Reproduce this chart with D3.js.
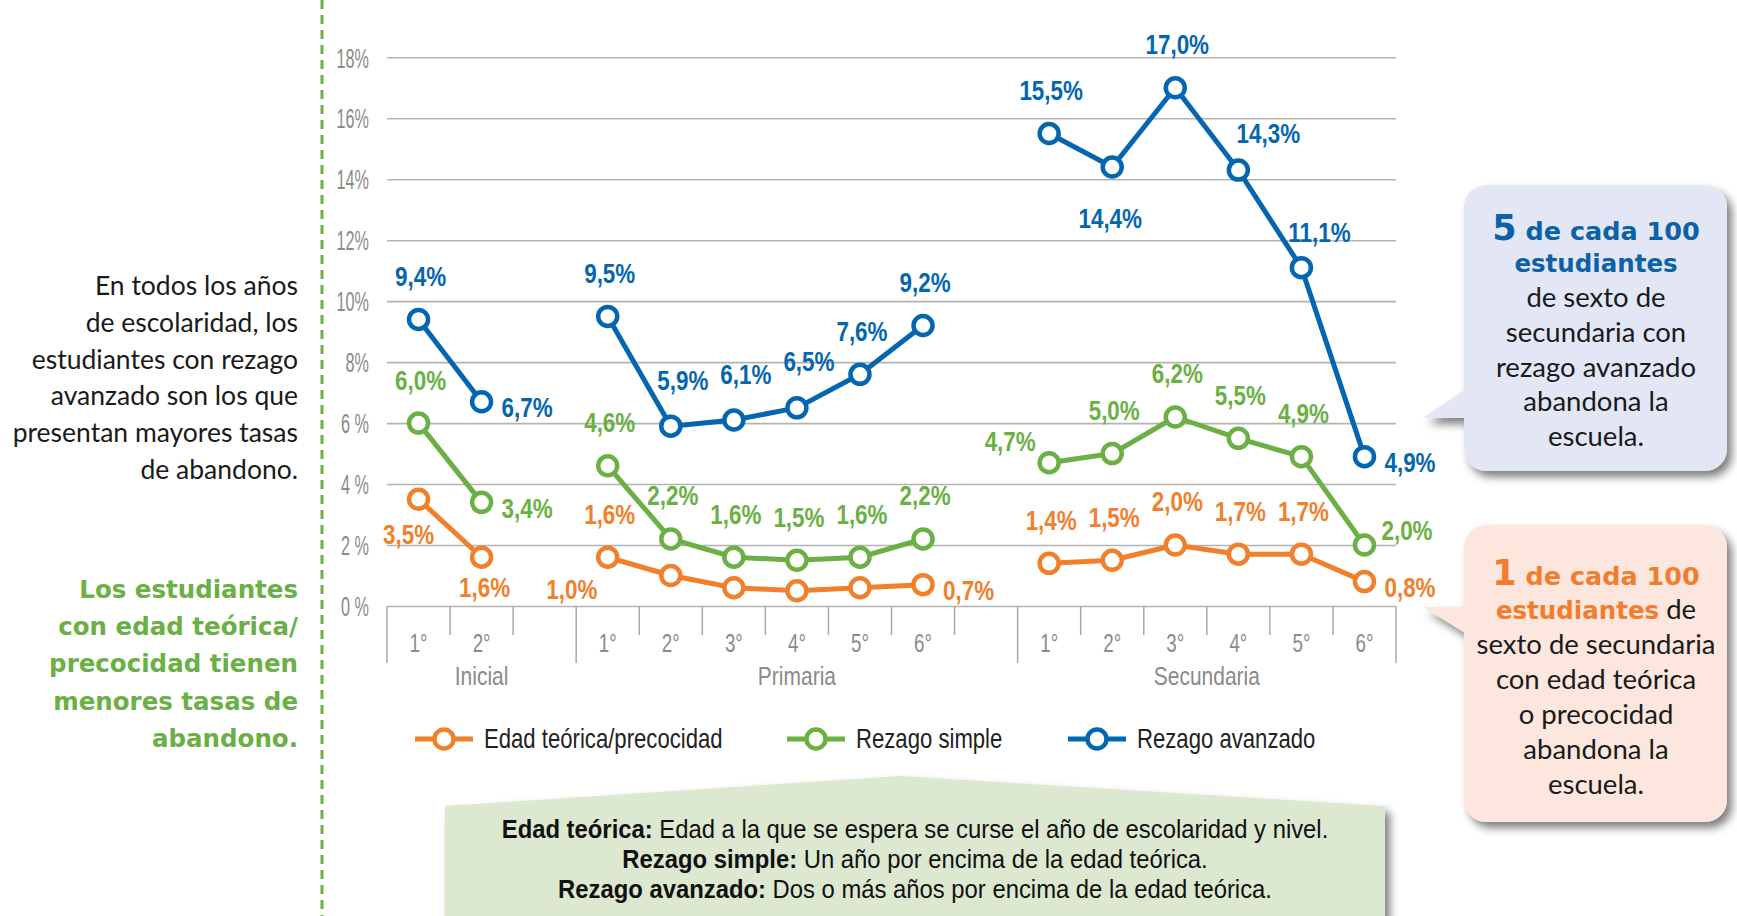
<!DOCTYPE html>
<html><head><meta charset="utf-8">
<script src="https://cdn.jsdelivr.net/npm/d3@7"></script>
<style>
html,body{margin:0;padding:0;background:#fff;}
svg{display:block}
</style></head><body>
<svg id="chart" width="1737" height="916"></svg>
<script>
// ---------- data ----------
const levels = ["Inicial", "Primaria", "Secundaria"];
const inicialGrades = ["1°", "2°"];
const primariaGrades = ["1°", "2°", "3°", "4°", "5°", "6°"];
const secundariaGrades = ["1°", "2°", "3°", "4°", "5°", "6°"];
const yTicks = [0, 2, 4, 6, 8, 10, 12, 14, 16, 18];
const yTickLabels = ["0 %", "2 %", "4 %", "6 %", "8%", "10%", "12%", "14%", "16%", "18%"];
const seriesNames = ["Edad teórica/precocidad", "Rezago simple", "Rezago avanzado"];

const edadInicial = [3.5, 1.6];
const edadPrimaria = [1.6, 1.0, 0.6, 0.5, 0.6, 0.7];
const edadSecundaria = [1.4, 1.5, 2.0, 1.7, 1.7, 0.8];
const simpleInicial = [6.0, 3.4];
const simplePrimaria = [4.6, 2.2, 1.6, 1.5, 1.6, 2.2];
const simpleSecundaria = [4.7, 5.0, 6.2, 5.5, 4.9, 2.0];
const avanzadoInicial = [9.4, 6.7];
const avanzadoPrimaria = [9.5, 5.9, 6.1, 6.5, 7.6, 9.2];
const avanzadoSecundaria = [15.5, 14.4, 17.0, 14.3, 11.1, 4.9];

// which points carry a value label, and on which side
const edadLabelSide = ["sw", "s", "n", "w", null, null, null, "e", "n", "n", "n", "n", "n", "e"];
const simpleLabelSide = ["n", "e", "n", "n", "n", "n", "n", "n", "nw", "n", "n", "n", "n", "en"];
const avanzadoLabelSide = ["n", "e", "n", "nr", "nr", "nr", "n", "n", "n", "ss", "n", "ne", "ne2", "e"];

// ---------- styles ----------
const COLORS = ["#f1802c", "#6ab045", "#0566b0"];
const COND = '"Liberation Sans",Arimo,Arial,sans-serif';
const HEAVY = '"DejaVu Sans",sans-serif';
const BOOK = 'Lato,"Open Sans",sans-serif';

const svg = d3.select("#chart");
const defs = svg.append("defs");
const f = defs.append("filter").attr("id", "shadow").attr("x", "-20%").attr("y", "-20%").attr("width", "150%").attr("height", "150%");
f.append("feDropShadow").attr("dx", 5).attr("dy", 6).attr("stdDeviation", 4).attr("flood-color", "#000").attr("flood-opacity", 0.5);

// ---------- categories ----------
const gradesByLevel = {Inicial: inicialGrades, Primaria: primariaGrades, Secundaria: secundariaGrades};
const cats = [];
levels.forEach((lv, li) => {
  gradesByLevel[lv].forEach(g => cats.push({key: lv + "|" + g, level: lv, grade: g}));
  if (li < levels.length - 1) cats.push({key: lv + "|gap", level: lv, grade: ""});
});

const pLeft = 387, pRight = 1396, pTop = 57.3, pBottom = 606;
const x = d3.scaleBand().domain(cats.map(c => c.key)).range([pLeft, pRight]).padding(0);
const y = d3.scaleLinear().domain([0, 18]).range([pBottom, pTop]);

// ---------- left dashed divider ----------
svg.append("line").attr("x1", 322).attr("x2", 322).attr("y1", 0).attr("y2", 916)
  .attr("stroke", "#6ab045").attr("stroke-width", 3).attr("stroke-dasharray", "9 6");

// ---------- y grid / axis ----------
const yAxis = svg.append("g").attr("transform", `translate(${pLeft},0)`)
  .call(d3.axisLeft(y).tickValues(yTicks).tickSize(-(pRight - pLeft)).tickPadding(0)
    .tickFormat((d, i) => yTickLabels[i]));
yAxis.select(".domain").remove();
yAxis.selectAll(".tick line").attr("stroke", "#b3b3b3").attr("stroke-width", 1.6);
yAxis.selectAll(".tick text")
  .attr("fill", "#8a8a8a").style("font-family", COND).style("font-size", "27px")
  .attr("x", 0).attr("dy", "0.36em").attr("transform", "translate(-18,0) scale(0.6,1)");

// ---------- x axis ----------
const xAxis = svg.append("g").attr("transform", `translate(0,${pBottom})`)
  .call(d3.axisBottom(x).tickSize(0).tickPadding(0).tickFormat(k => k.split("|")[1] === "gap" ? "" : k.split("|")[1]));
xAxis.select(".domain").remove();
xAxis.selectAll(".tick text").attr("y", 0).attr("dy", 0).attr("transform", "translate(0,46) scale(0.75,1)")
  .attr("fill", "#8a8a8a").style("font-family", COND).style("font-size", "25px");

// boundary ticks
const bounds = cats.map((c, i) => ({pos: x(c.key), long: i === 0 || cats[i - 1].level !== c.level}));
bounds.push({pos: x(cats[cats.length - 1].key) + x.bandwidth(), long: true});
svg.append("g").selectAll("line").data(bounds).join("line")
  .attr("x1", d => d.pos).attr("x2", d => d.pos)
  .attr("y1", pBottom).attr("y2", d => d.long ? 663 : 635)
  .attr("stroke", "#a8a8a8").attr("stroke-width", 1.5);

// group labels
svg.append("g").selectAll("text").data(levels).join("text")
  .attr("transform", lv => {
    const ks = cats.filter(c => c.level === lv);
    const cxg = (x(ks[0].key) + x(ks[ks.length - 1].key) + x.bandwidth()) / 2;
    return `translate(${cxg},685) scale(0.84,1)`;
  })
  .attr("text-anchor", "middle")
  .attr("fill", "#8a8a8a").style("font-family", COND).style("font-size", "25px")
  .text(d => d);

// ---------- series ----------
const seriesData = [
  {name: seriesNames[0], color: COLORS[0], byLevel: [edadInicial, edadPrimaria, edadSecundaria], sides: edadLabelSide},
  {name: seriesNames[1], color: COLORS[1], byLevel: [simpleInicial, simplePrimaria, simpleSecundaria], sides: simpleLabelSide},
  {name: seriesNames[2], color: COLORS[2], byLevel: [avanzadoInicial, avanzadoPrimaria, avanzadoSecundaria], sides: avanzadoLabelSide}
];

const offsets = {
  n: [2, -43, "middle"], nr: [12, -46, "middle"], s: [3, 30, "middle"], ss: [-2, 52, "middle"],
  sw: [-10, 35, "middle"], nw: [-39, -21, "middle"], ne: [30, -37, "middle"], ne2: [18, -35, "middle"],
  w: [-99, 14, "middle"], e: [20, 6, "start"], en: [17, -14, "start"]
};

const line = d3.line().x(d => x(d.key) + x.bandwidth() / 2).y(d => y(d.value));
const fmt = v => v.toFixed(1).replace(".", ",") + "%";

seriesData.forEach(s => {
  const g = svg.append("g");
  const allPts = [];
  s.byLevel.forEach((vals, li) => {
    const lv = levels[li];
    const pts = vals.map((v, i) => ({key: lv + "|" + gradesByLevel[lv][i], value: v}));
    allPts.push(...pts);
    g.append("path").datum(pts).attr("d", line).attr("fill", "none")
      .attr("stroke", s.color).attr("stroke-width", 5).attr("stroke-linejoin", "round");
  });
  g.selectAll("circle").data(allPts).join("circle")
    .attr("cx", d => x(d.key) + x.bandwidth() / 2).attr("cy", d => y(d.value))
    .attr("r", 9.5).attr("fill", "#fff").attr("stroke", s.color).attr("stroke-width", 4.5);
  g.selectAll("text").data(allPts.map((p, i) => ({...p, side: s.sides[i]})).filter(p => p.side))
    .join("text")
    .attr("transform", d => `translate(${x(d.key) + x.bandwidth() / 2 + offsets[d.side][0]},${y(d.value) + offsets[d.side][1]}) scale(0.83,1)`)
    .attr("dy", "0.35em").attr("text-anchor", d => offsets[d.side][2])
    .attr("fill", s.color).style("font-family", COND).style("font-weight", "bold").style("font-size", "27px")
    .text(d => fmt(d.value));
});

// ---------- legend ----------
const legendX = [415, 787, 1068];
const lg = svg.append("g").selectAll("g").data(seriesData).join("g")
  .attr("transform", (d, i) => `translate(${legendX[i]},739)`);
lg.append("line").attr("x1", 0).attr("x2", 58).attr("stroke", d => d.color).attr("stroke-width", 5);
lg.append("circle").attr("cx", 29).attr("r", 9.5).attr("fill", "#fff").attr("stroke", d => d.color).attr("stroke-width", 4.5);
lg.append("text").attr("transform", "translate(69,9) scale(0.82,1)").attr("fill", "#222")
  .style("font-family", COND).style("font-size", "27px").text(d => d.name);

// ---------- left commentary ----------
const leftBlack = ["En todos los años", "de escolaridad, los", "estudiantes con rezago", "avanzado son los que", "presentan mayores tasas", "de abandono."];
const leftGreen = ["Los estudiantes", "con edad teórica/", "precocidad tienen", "menores tasas de", "abandono."];
svg.append("g").selectAll("text").data(leftBlack).join("text")
  .attr("x", 298).attr("y", (d, i) => 295 + i * 36.8).attr("text-anchor", "end")
  .attr("fill", "#1a1a1a").style("font-family", BOOK).style("font-size", "26.5px").text(d => d);
svg.append("g").selectAll("text").data(leftGreen).join("text")
  .attr("x", 298).attr("y", (d, i) => 598 + i * 37.2).attr("text-anchor", "end")
  .attr("fill", "#6ab045").style("font-family", HEAVY).style("font-weight", "bold").style("font-size", "24.5px").text(d => d);

// ---------- callouts ----------
function callout(rect, tri, fill) {
  const g = svg.append("g").attr("filter", "url(#shadow)");
  g.append("rect").attr("x", rect[0]).attr("y", rect[1]).attr("width", rect[2]).attr("height", rect[3])
    .attr("rx", 22).attr("fill", fill);
  g.append("polygon").attr("points", tri.map(p => p.join(",")).join(" ")).attr("fill", fill);
}
callout([1464, 185, 263, 286], [[1467, 388], [1423, 418], [1467, 418]], "#e3e7f5");
callout([1464, 525, 263, 297], [[1423, 607], [1467, 607], [1467, 634]], "#fde6dd");

const cx = 1596;
function addLine(yb, parts) {
  const t = svg.append("text").attr("x", cx).attr("y", yb).attr("text-anchor", "middle");
  parts.forEach(p => t.append("tspan").text(p.t).attr("fill", p.c)
    .style("font-family", p.f).style("font-weight", p.w || "normal").style("font-size", p.s + "px"));
}
const blueC = "#0b62a8", orC = "#f07e2e";
addLine(240, [{t: "5", c: blueC, f: HEAVY, w: "bold", s: 35}, {t: " de cada 100", c: blueC, f: HEAVY, w: "bold", s: 25.5}]);
addLine(272, [{t: "estudiantes", c: blueC, f: HEAVY, w: "bold", s: 24.5}]);
["de sexto de", "secundaria con", "rezago avanzado", "abandona la", "escuela."].forEach((t, i) =>
  addLine(307 + i * 34.8, [{t, c: "#1a1a1a", f: BOOK, s: 27.5}]));

addLine(585, [{t: "1", c: orC, f: HEAVY, w: "bold", s: 35}, {t: " de cada 100", c: orC, f: HEAVY, w: "bold", s: 25.5}]);
addLine(619, [{t: "estudiantes", c: orC, f: HEAVY, w: "bold", s: 24.5}, {t: " de", c: "#1a1a1a", f: BOOK, s: 27.5}]);
["sexto de secundaria", "con edad teórica", "o precocidad", "abandona la", "escuela."].forEach((t, i) =>
  addLine(654 + i * 35, [{t, c: "#1a1a1a", f: BOOK, s: 27.5}]));

// ---------- definitions box ----------
svg.append("polygon").attr("filter", "url(#shadow)")
  .attr("points", "445,806 900,776 1385,806 1385,930 445,930").attr("fill", "#dce8cf");
const defsLines = [
  ["Edad teórica:", " Edad a la que se espera se curse el año de escolaridad y nivel."],
  ["Rezago simple:", " Un año por encima de la edad teórica."],
  ["Rezago avanzado:", " Dos o más años por encima de la edad teórica."]
];
defsLines.forEach((l, i) => {
  const t = svg.append("text").attr("transform", `translate(915,${838 + i * 30}) scale(0.9,1)`).attr("text-anchor", "middle")
    .style("font-family", COND).style("font-size", "26.5px").attr("fill", "#111");
  t.append("tspan").text(l[0]).style("font-weight", "bold");
  t.append("tspan").text(l[1]);
});
</script>
</body></html>
